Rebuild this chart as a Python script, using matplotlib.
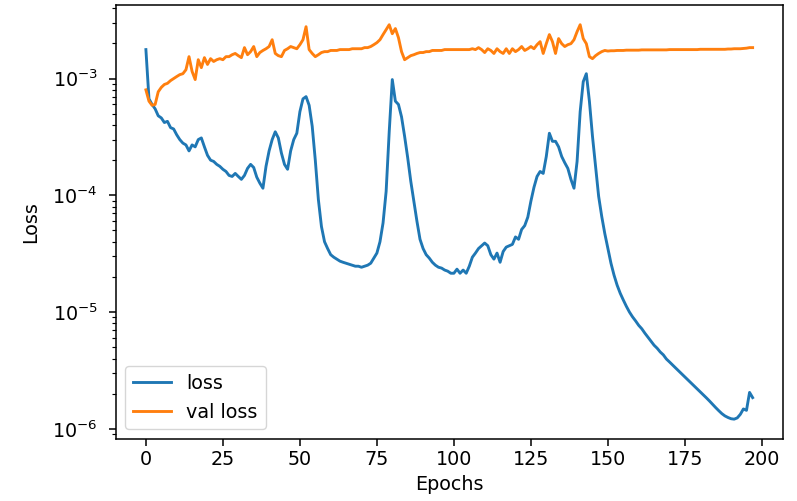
import matplotlib
matplotlib.use("Agg")
from matplotlib import pyplot as plt

# Training history (one value per epoch, 198 epochs)
loss = [
    1.77e-3, 6.7e-4, 6.0e-4, 5.5e-4, 4.8e-4, 4.6e-4, 4.2e-4, 4.3e-4, 3.8e-4, 3.7e-4,
    3.3e-4, 3.0e-4, 2.8e-4, 2.7e-4, 2.4e-4, 2.7e-4, 2.6e-4, 3.0e-4, 3.1e-4, 2.6e-4,
    2.2e-4, 2.0e-4, 1.95e-4, 1.84e-4, 1.77e-4, 1.67e-4, 1.60e-4, 1.48e-4, 1.45e-4, 1.54e-4,
    1.45e-4, 1.37e-4, 1.48e-4, 1.70e-4, 1.84e-4, 1.73e-4, 1.43e-4, 1.27e-4, 1.15e-4, 1.77e-4,
    2.4e-4, 3.0e-4, 3.5e-4, 3.1e-4, 2.3e-4, 1.84e-4, 1.67e-4, 2.4e-4, 3.0e-4, 3.4e-4,
    5.2e-4, 6.7e-4, 7.0e-4, 5.9e-4, 3.9e-4, 2.0e-4, 9.2e-5, 5.4e-5, 4.0e-5, 3.5e-5,
    3.1e-5, 2.95e-5, 2.84e-5, 2.73e-5, 2.67e-5, 2.62e-5, 2.57e-5, 2.52e-5, 2.47e-5, 2.47e-5,
    2.42e-5, 2.47e-5, 2.52e-5, 2.62e-5, 2.9e-5, 3.2e-5, 4.0e-5, 5.8e-5, 1.08e-4, 3.5e-4,
    9.8e-4, 6.4e-4, 6.0e-4, 4.7e-4, 3.2e-4, 2.1e-4, 1.32e-4, 8.9e-5, 6.0e-5, 4.2e-5,
    3.5e-5, 3.1e-5, 2.9e-5, 2.67e-5, 2.52e-5, 2.42e-5, 2.38e-5, 2.29e-5, 2.24e-5, 2.15e-5,
    2.15e-5, 2.33e-5, 2.15e-5, 2.29e-5, 2.15e-5, 2.47e-5, 2.95e-5, 3.2e-5, 3.5e-5, 3.7e-5,
    3.9e-5, 3.7e-5, 3.1e-5, 2.84e-5, 3.2e-5, 2.67e-5, 3.3e-5, 3.6e-5, 3.7e-5, 3.8e-5,
    4.4e-5, 4.2e-5, 5.1e-5, 5.5e-5, 6.5e-5, 8.9e-5, 1.17e-4, 1.45e-4, 1.60e-4, 1.54e-4,
    2.15e-4, 3.4e-4, 2.9e-4, 2.9e-4, 2.6e-4, 2.15e-4, 1.9e-4, 1.70e-4, 1.37e-4, 1.15e-4,
    1.95e-4, 5.2e-4, 9.4e-4, 1.10e-3, 6.4e-4, 3.2e-4, 1.77e-4, 9.8e-5, 6.6e-5, 4.7e-5,
    3.5e-5, 2.62e-5, 2.07e-5, 1.70e-5, 1.45e-5, 1.27e-5, 1.12e-5, 1.0e-5, 9.1e-6, 8.4e-6,
    7.7e-6, 7.2e-6, 6.6e-6, 6.1e-6, 5.65e-6, 5.2e-6, 4.9e-6, 4.55e-6, 4.3e-6, 3.96e-6,
    3.74e-6, 3.52e-6, 3.32e-6, 3.13e-6, 2.95e-6, 2.78e-6, 2.62e-6, 2.47e-6, 2.33e-6, 2.20e-6,
    2.07e-6, 1.95e-6, 1.84e-6, 1.73e-6, 1.62e-6, 1.52e-6, 1.43e-6, 1.35e-6, 1.29e-6, 1.25e-6,
    1.22e-6, 1.21e-6, 1.24e-6, 1.33e-6, 1.48e-6, 1.44e-6, 2.05e-6, 1.85e-6,
]

val_loss = [
    8.0e-4, 6.4e-4, 5.9e-4, 6.0e-4, 7.7e-4, 8.4e-4, 8.9e-4, 9.1e-4, 9.6e-4, 1.0e-3,
    1.04e-3, 1.08e-3, 1.10e-3, 1.19e-3, 1.54e-3, 1.15e-3, 0.98e-3, 1.45e-3, 1.24e-3, 1.51e-3,
    1.32e-3, 1.48e-3, 1.40e-3, 1.45e-3, 1.48e-3, 1.45e-3, 1.54e-3, 1.54e-3, 1.60e-3, 1.64e-3,
    1.57e-3, 1.51e-3, 1.84e-3, 1.60e-3, 1.70e-3, 1.88e-3, 1.54e-3, 1.67e-3, 1.74e-3, 1.80e-3,
    1.88e-3, 2.15e-3, 1.64e-3, 1.57e-3, 1.54e-3, 1.74e-3, 1.80e-3, 1.88e-3, 1.84e-3, 1.80e-3,
    1.95e-3, 2.15e-3, 2.78e-3, 1.77e-3, 1.64e-3, 1.54e-3, 1.60e-3, 1.67e-3, 1.70e-3, 1.70e-3,
    1.74e-3, 1.74e-3, 1.74e-3, 1.77e-3, 1.77e-3, 1.77e-3, 1.77e-3, 1.80e-3, 1.80e-3, 1.80e-3,
    1.80e-3, 1.84e-3, 1.84e-3, 1.88e-3, 1.95e-3, 2.03e-3, 2.15e-3, 2.38e-3, 2.62e-3, 2.89e-3,
    2.42e-3, 2.68e-3, 2.24e-3, 1.70e-3, 1.45e-3, 1.51e-3, 1.57e-3, 1.60e-3, 1.64e-3, 1.67e-3,
    1.67e-3, 1.70e-3, 1.70e-3, 1.74e-3, 1.74e-3, 1.74e-3, 1.74e-3, 1.77e-3, 1.77e-3, 1.77e-3,
    1.77e-3, 1.77e-3, 1.77e-3, 1.77e-3, 1.77e-3, 1.77e-3, 1.80e-3, 1.77e-3, 1.84e-3, 1.77e-3,
    1.67e-3, 1.80e-3, 1.74e-3, 1.64e-3, 1.80e-3, 1.70e-3, 1.64e-3, 1.80e-3, 1.64e-3, 1.80e-3,
    1.70e-3, 1.77e-3, 1.88e-3, 1.74e-3, 1.80e-3, 1.88e-3, 1.80e-3, 1.95e-3, 2.07e-3, 1.64e-3,
    1.99e-3, 2.38e-3, 2.07e-3, 1.64e-3, 2.20e-3, 1.99e-3, 1.88e-3, 1.95e-3, 1.99e-3, 2.15e-3,
    2.52e-3, 2.89e-3, 2.20e-3, 1.99e-3, 1.54e-3, 1.48e-3, 1.57e-3, 1.64e-3, 1.70e-3, 1.74e-3,
    1.72e-3, 1.73e-3, 1.73e-3, 1.74e-3, 1.74e-3, 1.74e-3, 1.75e-3, 1.75e-3, 1.75e-3, 1.75e-3,
    1.75e-3, 1.76e-3, 1.76e-3, 1.76e-3, 1.76e-3, 1.76e-3, 1.76e-3, 1.76e-3, 1.76e-3, 1.76e-3,
    1.77e-3, 1.77e-3, 1.77e-3, 1.77e-3, 1.77e-3, 1.77e-3, 1.77e-3, 1.77e-3, 1.77e-3, 1.77e-3,
    1.78e-3, 1.78e-3, 1.78e-3, 1.78e-3, 1.78e-3, 1.78e-3, 1.78e-3, 1.78e-3, 1.78e-3, 1.79e-3,
    1.79e-3, 1.80e-3, 1.80e-3, 1.80e-3, 1.81e-3, 1.82e-3, 1.84e-3, 1.84e-3,
]

epochs = list(range(len(loss)))

# the reference is an upscaled default-style plot, so scale sizes up a bit
s = 1.38
plt.rcParams["font.size"] = 10 * s
plt.rcParams["lines.linewidth"] = 1.5 * s
plt.rcParams["axes.linewidth"] = 0.8 * s
plt.rcParams["xtick.major.size"] = 3.5 * s
plt.rcParams["ytick.major.size"] = 3.5 * s
plt.rcParams["xtick.major.width"] = 0.8 * s
plt.rcParams["ytick.major.width"] = 0.8 * s
plt.rcParams["ytick.minor.size"] = 2 * s
plt.rcParams["ytick.minor.width"] = 0.6 * s
plt.rcParams["ytick.major.pad"] = 8

fig = plt.figure(figsize=(7.97, 5.01), dpi=100)
ax = fig.add_axes([0.145, 0.124, 0.8374, 0.866])

ax.plot(epochs, loss, label="loss")
ax.plot(epochs, val_loss, label="val loss")
ax.set_yscale("log")
ax.set_xlabel("Epochs")
ax.set_ylabel("Loss", labelpad=9)
ax.legend(loc="lower left")

fig.savefig("out.png", dpi=100)
